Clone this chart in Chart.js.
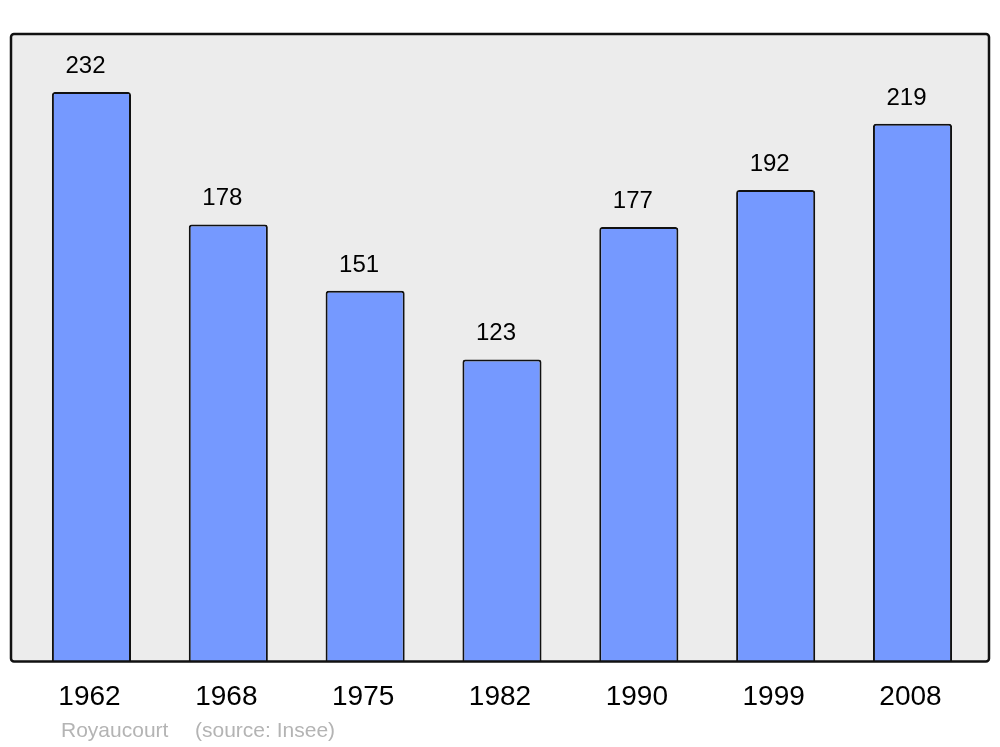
<!DOCTYPE html>
<html>
<head>
<meta charset="utf-8">
<script src="https://cdn.jsdelivr.net/npm/chart.js@4.4.0/dist/chart.umd.min.js"></script>
<style>
html,body{margin:0;padding:0;background:#fff;}
#wrap{width:1000px;height:747px;position:relative;}
</style>
</head>
<body>
<div id="wrap"><canvas id="c" width="1000" height="747"></canvas></div>
<script>
const years = ['1962','1968','1975','1982','1990','1999','2008'];
const population = [232, 178, 151, 123, 177, 192, 219];
const commune = 'Royaucourt';
const sourceText = '(source: Insee)';

const FONT = "'Liberation Sans', Arial, sans-serif";

const framePlugin = {
  id: 'frame',
  beforeDatasetsDraw(chart) {
    const {ctx, chartArea: a} = chart;
    ctx.save();
    ctx.fillStyle = '#ececec';
    ctx.beginPath();
    ctx.roundRect(a.left, a.top, a.right - a.left, a.bottom - a.top, 3);
    ctx.fill();
    ctx.restore();
  },
  afterDatasetsDraw(chart) {
    const {ctx, chartArea: a} = chart;
    ctx.save();
    ctx.strokeStyle = '#111';
    ctx.lineWidth = 2.5;
    ctx.beginPath();
    ctx.roundRect(a.left, a.top, a.right - a.left, a.bottom - a.top, 3);
    ctx.stroke();
    // value labels
    const meta = chart.getDatasetMeta(0);
    ctx.fillStyle = '#000';
    ctx.font = '24px ' + FONT;
    ctx.textAlign = 'center';
    ctx.textBaseline = 'alphabetic';
    meta.data.forEach((bar, i) => {
      ctx.fillText(String(population[i]), bar.x - 6, bar.y - 19);
    });
    // source
    ctx.fillStyle = '#b4b4b4';
    ctx.font = '21px ' + FONT;
    ctx.textAlign = 'left';
    ctx.fillText(commune, 61, 737);
    ctx.fillText(sourceText, 195, 737);
    ctx.restore();
  }
};

new Chart(document.getElementById('c'), {
  type: 'bar',
  data: {
    datasets: [{
      data: population.map((v, i) => ({x: i, y: v})),
      backgroundColor: '#7599ff',
      borderColor: '#111',
      borderWidth: 2,
      borderRadius: {topLeft: 3, topRight: 3, bottomLeft: 0, bottomRight: 0},
      borderSkipped: 'bottom',
      barPercentage: 0.578,
      categoryPercentage: 1
    }]
  },
  options: {
    responsive: false,
    animation: false,
    devicePixelRatio: 1,
    layout: {padding: {top: 34, left: 11, right: 11, bottom: 14}},
    plugins: {legend: {display: false}, tooltip: {enabled: false}},
    scales: {
      x: {
        type: 'linear',
        offset: false,
        min: -0.588,
        max: 6.559,
        grid: {display: false, drawTicks: false, offset: false},
        border: {display: false},
        afterBuildTicks(scale) {
          scale.ticks = years.map((y, i) => ({value: i}));
        },
        ticks: {
          autoSkip: false,
          maxRotation: 0,
          padding: 19,
          labelOffset: -2,
          color: '#000',
          font: {family: FONT, size: 28},
          callback: (v) => years[v]
        }
      },
      y: {
        display: false,
        min: 0,
        max: 255.6
      }
    }
  },
  plugins: [framePlugin]
});
</script>
</body>
</html>
